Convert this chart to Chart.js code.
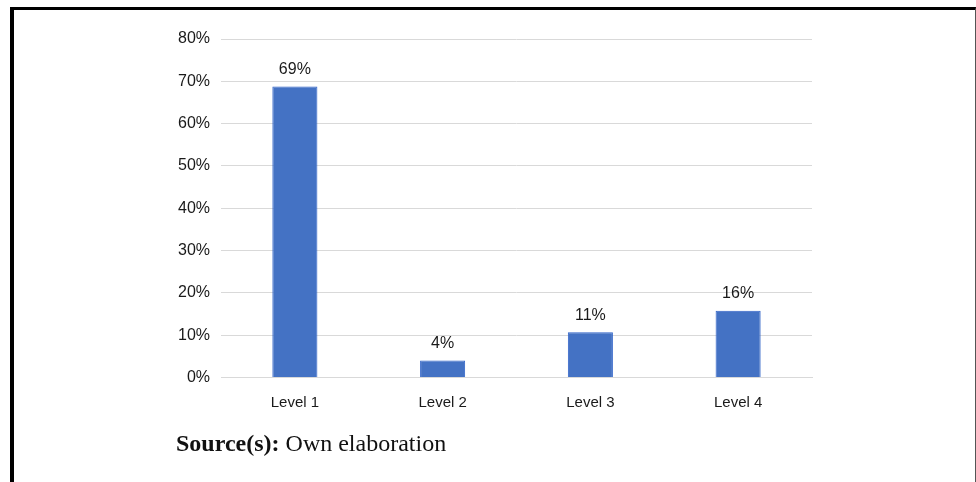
<!DOCTYPE html>
<html>
<head>
<meta charset="utf-8">
<script src="https://cdn.jsdelivr.net/npm/chart.js@4/dist/chart.umd.min.js"></script>
<style>
  html, body { margin: 0; padding: 0; background: #fff; }
  #wrap { position: relative; width: 976px; height: 482px; overflow: hidden; }
  #frame {
    position: absolute; left: 10px; top: 7px; width: 961px; height: 480px;
    border-top: 3px solid #000; border-left: 4px solid #000; border-right: 1px solid #555;
  }
  #chart { position: absolute; left: 0; top: 0; }
  #source {
    position: absolute; left: 176px; top: 431px; line-height: 24px;
    font-family: "Liberation Serif", "Times New Roman", serif; font-size: 24px; color: #111;
  }
</style>
</head>
<body>
<div id="wrap">
  <div id="frame"></div>
  <canvas id="chart" width="976" height="482"></canvas>
  <div id="source"><b>Source(s):</b> Own elaboration</div>
</div>
<script>
const categories = ['Level 1', 'Level 2', 'Level 3', 'Level 4'];
const values = [68.8, 4, 10.7, 15.8];
const valueLabels = ['69%', '4%', '11%', '16%'];
const yTicks = [0, 10, 20, 30, 40, 50, 60, 70, 80];

// etiquetas em cima das barras
const barLabels = {
  id: 'barLabels',
  afterDatasetsDraw(chart) {
    const ctx = chart.ctx;
    const meta = chart.getDatasetMeta(0);
    ctx.save();
    ctx.font = '16px "Liberation Sans", Arial, sans-serif';
    ctx.fillStyle = '#1a1a1a';
    ctx.textAlign = 'center';
    ctx.textBaseline = 'middle';
    meta.data.forEach((bar, i) => {
      ctx.fillText(valueLabels[i], bar.x, bar.y - 17);
    });
    ctx.restore();
  }
};

const ctx = document.getElementById('chart').getContext('2d');
new Chart(ctx, {
  type: 'bar',
  data: {
    labels: categories,
    datasets: [{
      data: values,
      backgroundColor: '#4472c4',
      borderColor: '#2f62c8',
      borderWidth: 1,
      barPercentage: 0.305,
      categoryPercentage: 1
    }]
  },
  options: {
    responsive: false,
    animation: false,
    layout: { padding: { top: 39, right: 164, left: 0, bottom: 0 } },
    plugins: { legend: { display: false }, tooltip: { enabled: false } },
    scales: {
      x: {
        grid: { display: false, drawTicks: false },
        border: { display: true, color: '#d9d9d9', width: 1 },
        ticks: { color: '#1a1a1a', padding: 16, font: { family: '"Liberation Sans", Arial, sans-serif', size: 15 } },
        afterFit(scale) { scale.height = 104.5; }
      },
      y: {
        min: 0,
        max: 80,
        afterBuildTicks(scale) { scale.ticks = yTicks.map(v => ({ value: v })); },
        grid: { color: '#d9d9d9', lineWidth: 1, drawTicks: false },
        border: { display: false },
        ticks: {
          color: '#1a1a1a', padding: 11,
          font: { family: '"Liberation Sans", Arial, sans-serif', size: 16 },
          callback: v => v + '%'
        },
        afterFit(scale) { scale.width = 221; }
      }
    }
  },
  plugins: [barLabels]
});
</script>
</body>
</html>
